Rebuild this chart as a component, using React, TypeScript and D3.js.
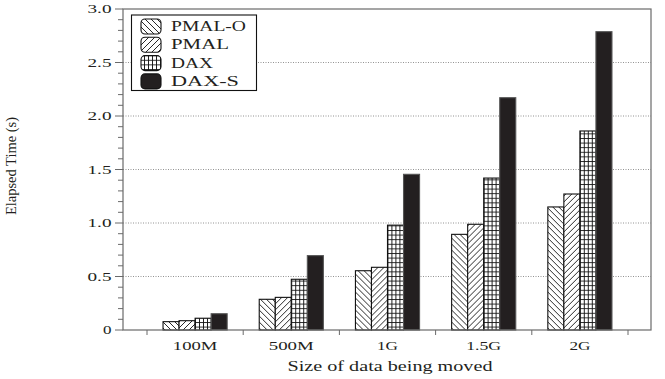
import React from "react";
import * as d3 from "d3";

const categories = ["100M", "500M", "1G", "1.5G", "2G"];
const seriesNames = ["PMAL-O", "PMAL", "DAX", "DAX-S"];
const pmalO = [0.078, 0.287, 0.554, 0.894, 1.15];
const pmal = [0.087, 0.305, 0.586, 0.988, 1.271];
const dax = [0.11, 0.474, 0.98, 1.42, 1.86];
const daxS = [0.152, 0.695, 1.455, 2.171, 2.788];
const yTicks = [0, 0.5, 1.0, 1.5, 2.0, 2.5, 3.0];
const yTickLabels = ["0", "0.5", "1.0", "1.5", "2.0", "2.5", "3.0"];
const gridValues = [0.5, 1.0, 1.5, 2.0, 2.5];

const seriesValues = [pmalO, pmal, dax, daxS];
const fills = ["url(#hatchBack)", "url(#hatchFwd)", "url(#gridPat)", "#231f20"];

const FONT = "'Liberation Serif', 'Times New Roman', serif";
const TXT = "#231f20";

export default function App() {
  const W = 665, H = 379;
  const left = 123, right = 651, top = 9, bottom = 330;
  const y = d3.scaleLinear().domain([0, 3]).range([bottom, top]);
  const x = d3.scaleBand<string>().domain(categories).range([147, 628]).padding(0);
  const bw = x.bandwidth();
  const x1 = d3.scaleBand<string>().domain(seriesNames).range([bw / 6, (bw * 5) / 6]).padding(0);
  const minorTicks = d3.range(0, 3.0001, 0.1).map((v) => +v.toFixed(2));
  const xTickPos = categories.map((c) => x(c) as number).concat([(x(categories[categories.length - 1]) as number) + bw]);
  const tickLabelWidths: Record<string, number> = { "0": 8.5, "0.5": 24, "1.0": 24, "1.5": 24, "2.0": 24, "2.5": 24, "3.0": 24 };
  const catLabelWidths: Record<string, number> = { "100M": 44.5, "500M": 45, "1G": 21, "1.5G": 35, "2G": 21 };
  const legendWidths = [75, 58, 42, 68];

  return (
    <svg width={W} height={H} style={{ position: "absolute", left: 0, top: 0, background: "#fff" }}>
      <defs>
        <pattern id="hatchBack" patternUnits="userSpaceOnUse" width={6} height={6}>
          <rect width={6} height={6} fill="#fff" />
          <path d="M-1,-1 L7,7 M-1,5 L1,7 M5,-1 L7,1" stroke="#111" strokeWidth={0.9} />
        </pattern>
        <pattern id="hatchFwd" patternUnits="userSpaceOnUse" width={6} height={6}>
          <rect width={6} height={6} fill="#fff" />
          <path d="M-1,7 L7,-1 M-1,1 L1,-1 M5,7 L7,5" stroke="#111" strokeWidth={0.9} />
        </pattern>
        <pattern id="gridPat" patternUnits="userSpaceOnUse" width={4} height={4.6}>
          <rect width={4} height={4.6} fill="#fff" />
          <path d="M0.5,0 L0.5,4.6 M0,0.5 L4,0.5" stroke="#111" strokeWidth={0.9} />
        </pattern>
      </defs>

      {gridValues.map((v) => (
        <line key={"g" + v} x1={left} x2={right} y1={y(v)} y2={y(v)} stroke="#777" strokeWidth={0.8} strokeDasharray="1,1.5" />
      ))}

      {categories.map((c, i) => (
        <g key={c} transform={`translate(${x(c)},0)`}>
          {seriesNames.map((s, j) => {
            const v = seriesValues[j][i];
            return (
              <rect
                key={s}
                x={x1(s)}
                y={y(v)}
                width={x1.bandwidth()}
                height={bottom - y(v)}
                fill={fills[j]}
                stroke={j === 3 ? "#555" : "#111"}
                strokeWidth={1.1}
              />
            );
          })}
        </g>
      ))}

      <rect x={left} y={top} width={right - left} height={bottom - top} fill="none" stroke="#6a6a6a" strokeWidth={1.2} />

      {minorTicks.map((v) => {
        const major = Math.abs(v * 2 - Math.round(v * 2)) < 1e-6;
        return (
          <line key={"t" + v} x1={left - (major ? 8 : 5)} x2={left} y1={y(v)} y2={y(v)} stroke="#6a6a6a" strokeWidth={1} />
        );
      })}
      {yTicks.map((v, i) => (
        <text
          key={"yl" + v}
          x={111.5}
          y={y(v) + 4}
          textAnchor="end"
          fontFamily={FONT}
          fontSize={12}
          fill={TXT}
          textLength={tickLabelWidths[yTickLabels[i]]}
          lengthAdjust="spacingAndGlyphs"
        >
          {yTickLabels[i]}
        </text>
      ))}

      {xTickPos.map((p, i) => (
        <line key={"xt" + i} x1={p} x2={p} y1={bottom} y2={bottom + 5} stroke="#6a6a6a" strokeWidth={1} />
      ))}
      {categories.map((c) => (
        <text
          key={"xl" + c}
          x={(x(c) as number) + bw / 2}
          y={349.5}
          textAnchor="middle"
          fontFamily={FONT}
          fontSize={12.5}
          fill={TXT}
          textLength={catLabelWidths[c]}
          lengthAdjust="spacingAndGlyphs"
        >
          {c}
        </text>
      ))}

      <text
        x={(left + right) / 2 + 3}
        y={371}
        textAnchor="middle"
        fontFamily={FONT}
        fontSize={15}
        fill={TXT}
        textLength={205}
        lengthAdjust="spacingAndGlyphs"
      >
        Size of data being moved
      </text>
      <text
        transform={`translate(16,166) rotate(-90)`}
        textAnchor="middle"
        fontFamily={FONT}
        fontSize={14}
        fill={TXT}
        textLength={98}
        lengthAdjust="spacingAndGlyphs"
      >
        Elapsed Time (s)
      </text>

      <rect x={131.5} y={15} width={125} height={75.5} fill="#fff" stroke="#111" strokeWidth={1.1} />
      {seriesNames.map((s, j) => {
        const cy = 26.5 + j * 18.3;
        return (
          <g key={"lg" + s}>
            <rect x={141} y={cy - 7.5} width={20} height={15} rx={4} ry={4} fill={fills[j]} stroke="#111" strokeWidth={1.1} />
            <text
              x={171}
              y={cy + 4.6}
              fontFamily={FONT}
              fontSize={14}
              fill={TXT}
              textLength={legendWidths[j]}
              lengthAdjust="spacingAndGlyphs"
            >
              {s}
            </text>
          </g>
        );
      })}
    </svg>
  );
}
